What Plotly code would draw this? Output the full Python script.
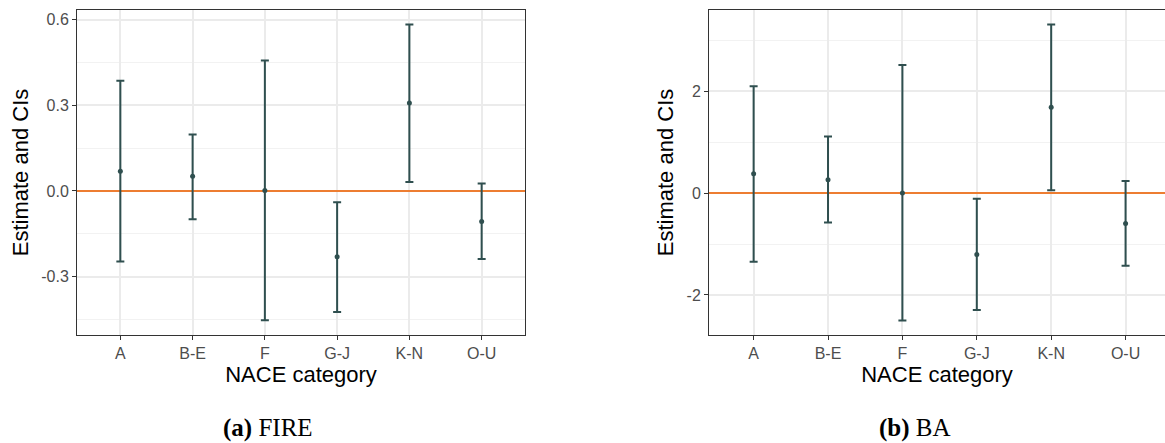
import plotly.graph_objects as go

categories = ["A", "B-E", "F", "G-J", "K-N", "O-U"]

fire_est = [0.069, 0.051, 0.001, -0.231, 0.308, -0.107]
fire_lo = [-0.247, -0.099, -0.453, -0.424, 0.031, -0.239]
fire_hi = [0.386, 0.198, 0.457, -0.040, 0.583, 0.026]

ba_est = [0.38, 0.262, 0.0, -1.206, 1.683, -0.599]
ba_lo = [-1.35, -0.58, -2.50, -2.296, 0.053, -1.429]
ba_hi = [2.094, 1.11, 2.513, -0.11, 3.307, 0.235]

fire_ticks = [-0.3, 0.0, 0.3, 0.6]
fire_ticktext = ["-0.3", "0.0", "0.3", "0.6"]
ba_ticks = [-2, 0, 2]
ba_ticktext = ["-2", "0", "2"]

W, H = 1165, 443
DARK = "#2F4F4F"
ORANGE = "#ED7D31"
GRID = "#EBEBEB"
BORDER = "#333333"
TICKFONT = dict(family="Arial, Liberation Sans, sans-serif", size=16, color="#4D4D4D")
TITLEFONT = dict(family="Arial, Liberation Sans, sans-serif", size=22, color="#000000")


def err_trace(est, lo, hi, xa, ya):
    return go.Scatter(
        x=categories, y=est, mode="markers",
        marker=dict(color=DARK, size=5),
        error_y=dict(type="data", symmetric=False,
                     array=[h - e for h, e in zip(hi, est)],
                     arrayminus=[e - l for e, l in zip(est, lo)],
                     color=DARK, thickness=2, width=4),
        xaxis=xa, yaxis=ya, showlegend=False, hoverinfo="skip",
    )


fig = go.Figure()
fig.add_trace(err_trace(fire_est, fire_lo, fire_hi, "x", "y"))
fig.add_trace(err_trace(ba_est, ba_lo, ba_hi, "x2", "y2"))

ytop = 1 - 10 / H
ybot = 1 - 335 / H

xcommon = dict(
    type="category", showgrid=True, gridcolor=GRID, gridwidth=1.6,
    showline=True, linecolor=BORDER, linewidth=1, mirror=True,
    ticks="outside", ticklen=4, tickcolor=BORDER, tickwidth=1,
    tickfont=TICKFONT, title=dict(text="NACE category", font=TITLEFONT, standoff=2),
    zeroline=False, categoryorder="array", categoryarray=categories,
)
ycommon = dict(
    showgrid=True, gridcolor=GRID, gridwidth=1.6,
    showline=True, linecolor=BORDER, linewidth=1,
    ticks="outside", ticklen=4, tickcolor=BORDER, tickwidth=1,
    tickfont=TICKFONT,
    zeroline=True, zerolinecolor=ORANGE, zerolinewidth=2,
    title=dict(text="Estimate and CIs", font=TITLEFONT, standoff=6),
)

fig.update_layout(
    width=W, height=H,
    margin=dict(l=0, r=0, t=0, b=0),
    paper_bgcolor="white", plot_bgcolor="white",
    xaxis=dict(domain=[77 / W, 525 / W], range=[-0.6, 5.6], anchor="y", **xcommon),
    yaxis=dict(domain=[ybot, ytop], range=[-0.505, 0.634], anchor="x",
               tickvals=fire_ticks, ticktext=fire_ticktext, mirror=True,
               minor=dict(dtick=0.3, tick0=0.15, showgrid=True, gridcolor="#F2F2F2", gridwidth=1, ticks=""),
               **ycommon),
    xaxis2=dict(domain=[709 / W, 1.0], range=[-0.6, 5.53], anchor="y2", **xcommon),
    yaxis2=dict(domain=[ybot, ytop], range=[-2.785, 3.59], anchor="x2",
                tickvals=ba_ticks, ticktext=ba_ticktext, mirror=False,
                minor=dict(dtick=2, tick0=1, showgrid=True, gridcolor="#F2F2F2", gridwidth=1, ticks=""),
                **ycommon),
)

capfont = dict(family="Times New Roman, Liberation Serif, serif", size=25, color="#000000")
fig.add_annotation(text="<b>(a)</b> FIRE", xref="paper", yref="paper",
                   x=268 / W, y=1 - 428 / H, showarrow=False, font=capfont,
                   xanchor="center", yanchor="middle")
fig.add_annotation(text="<b>(b)</b> BA", xref="paper", yref="paper",
                   x=915 / W, y=1 - 428 / H, showarrow=False, font=capfont,
                   xanchor="center", yanchor="middle")

fig.write_html("out.html", config={"displayModeBar": False},
               post_script="document.body.style.margin='0';document.body.style.overflow='hidden';")
